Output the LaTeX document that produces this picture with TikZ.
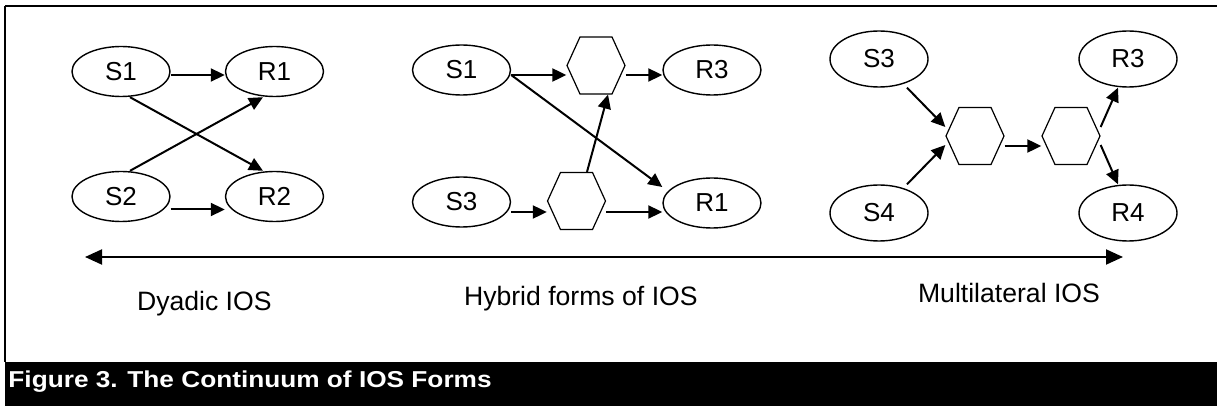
\documentclass[tikz,border=0pt]{standalone}
\usepackage{fontspec}
\setmainfont{Liberation Sans}
\usepackage{tikz}
\usetikzlibrary{shapes,shapes.symbols,arrows.meta,positioning,calc}

\begin{document}
\begin{tikzpicture}[
    x=0.5pt, y=-0.5pt,
    party/.style={ellipse, draw, line width=0.7pt, inner sep=0pt, minimum width=49pt, minimum height=25pt, font=\fontsize{13}{15}\selectfont},
    hub/.style={signal, signal to=east and west, signal pointer angle=131, draw, line width=0.6pt, inner sep=0pt, minimum width=29pt, minimum height=28.5pt},
    arrow/.style={-{Triangle[length=7pt, width=6.5pt]}, line width=1pt},
    form/.style={anchor=base west, font=\fontsize{13.3}{15}\selectfont}
]
\useasboundingbox (0,0) rectangle (1217,406);

% Frame and caption bar
\draw[line width=1pt] (5,6) -- (1217,6);
\draw[line width=1pt] (5,6) -- (5,362);
\fill[black] (5,362) rectangle (1217,406);
\node[anchor=base west, text=white, inner sep=0pt, font=\bfseries\fontsize{11.5}{13}\selectfont, xscale=1.14, transform shape] (caption) at (8,388) {Figure 3. The Continuum of IOS Forms};

% Dyadic IOS
\node[party] (s1) at (121,71.5) {S1};
\node[party] (r1) at (274.5,71.5) {R1};
\node[party] (s2) at (121,196.5) {S2};
\node[party] (r2) at (274.5,196.5) {R2};

\draw[arrow] ([yshift=-1.75pt]s1.east) -- ([yshift=-1.75pt]r1.west);
\draw[arrow] ([yshift=-6.5pt]s2.east) -- ([yshift=-6.5pt]r2.west);
\draw[arrow] ([xshift=4.5pt]s1.south) -- ([xshift=-5.75pt]r2.north);
\draw[arrow] ([xshift=4.5pt]s2.north) -- ([xshift=-5.75pt]r1.south);

% Hybrid forms
\node[party] (hs1) at (461.5,70) {S1};
\node[hub] (ha) at (596,65.5) {};
\node[party] (hr3) at (712,70) {R3};
\node[party] (hs3) at (461.5,202) {S3};
\node[hub] (hb) at (576.5,201) {};
\node[party] (hr1) at (712,203) {R1};

\draw[arrow] ([yshift=-2.5pt]hs1.east) -- ([yshift=-4.75pt]ha.west);
\draw[arrow] ([yshift=-4.75pt]ha.east) -- ([yshift=-2.5pt]hr3.west);
\draw[arrow] ([yshift=-5pt]hs3.east) -- ([yshift=-5.5pt]hb.west);
\draw[arrow] ([yshift=-5.5pt]hb.east) -- ([yshift=-4.5pt]hr1.west);
\draw[arrow] ([xshift=5.25pt]hb.north) -- ([xshift=6pt]ha.south);
\draw[arrow] ([yshift=-2.5pt]hs1.east) -- ([yshift=8pt]hr1.west);

% Multilateral IOS
\node[party, minimum height=28pt] (ms3) at (879,59) {S3};
\node[party, minimum height=28pt] (ms4) at (879,213) {S4};
\node[hub] (hc) at (975,136) {};
\node[hub] (hd) at (1071,136) {};
\node[party, minimum height=28pt] (mr3) at (1128,59) {R3};
\node[party, minimum height=28pt] (mr4) at (1128,213) {R4};

\draw[arrow] ([xshift=14pt]ms3.south) -- ([yshift=4.5pt]hc.west);
\draw[arrow] ([xshift=14pt]ms4.north) -- ([yshift=-4.5pt]hc.west);
\draw[arrow] ([yshift=-5pt]hc.east) -- ([yshift=-5pt]hd.west);
\draw[arrow] ([yshift=4.5pt]hd.east) -- ([xshift=-5pt]mr3.south);
\draw[arrow] ([yshift=-4.5pt]hd.east) -- ([xshift=-5pt]mr4.north);

% Continuum
\coordinate (dyad) at (85,257);
\coordinate (multi) at (1123,257);
\draw[{Triangle[length=8.5pt, width=7.5pt]}-{Triangle[length=8.5pt, width=7.5pt]}, line width=1pt] (dyad) -- (multi);

\node[form] (ldyad) at (130,311) {Dyadic IOS};
\node[form] (lhyb) at (457,306) {Hybrid forms of IOS};
\node[form] (lmulti) at (911,303) {Multilateral IOS};

\end{tikzpicture}
\end{document}
